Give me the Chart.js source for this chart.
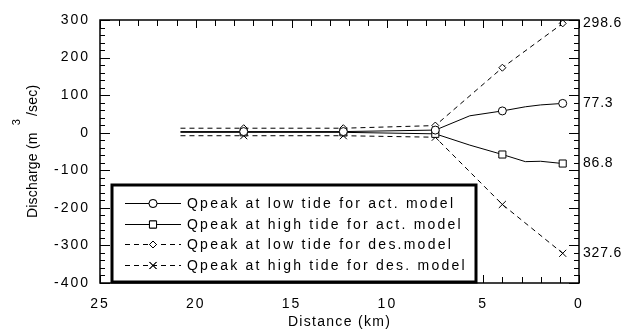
<!DOCTYPE html>
<html>
<head>
<meta charset="utf-8">
<script src="https://cdn.jsdelivr.net/npm/chart.js@4.4.1/dist/chart.umd.min.js"></script>
<style>
  html, body { margin: 0; padding: 0; background: #fff; }
  #wrap { width: 643px; height: 330px; }
</style>
</head>
<body>
<div id="wrap"><canvas id="chart" width="643" height="330"></canvas></div>
<script>
// distance along river (km), markers only at surveyed stations
const distances = [20.8, 17.5, 12.3, 7.5, 5.7, 4.0, 2.8, 2.0, 0.85];
const markerDistances = [17.5, 12.3, 7.5, 4.0, 0.85];

const lowTideAct = [3, 3, 3, 7, 45, 58, 69, 74, 78];
const highTideAct = [1, 1, 1, -3, -33, -58, -77, -76, -82];
const lowTideDes = [12, 12, 12, 19, null, 173, null, null, 291];
const highTideDes = [-8, -8, -8, -12, null, -191, null, null, -321];

const seriesNames = [
  'Qpeak at low tide for act. model',
  'Qpeak at high tide for act. model',
  'Qpeak at low tide for des.model',
  'Qpeak at high tide for des. model'
];
const endLabels = ['298.6', '77.3', '86.8', '327.6'];
const yTicks = [-400, -300, -200, -100, 0, 100, 200, 300];
const xTicks = [0, 5, 10, 15, 20, 25];

const FONT = '"Liberation Sans", Arial, sans-serif';

function pts(vals) { return distances.map((d, i) => ({ x: d, y: vals[i] })); }
function radii(r) { return distances.map(d => markerDistances.includes(d) ? r : 0); }

function makeSet(label, vals, style, r, dashed) {
  return {
    label: label,
    data: pts(vals),
    borderColor: '#000',
    backgroundColor: '#fff',
    borderWidth: 1,
    borderDash: dashed ? [5, 4] : [],
    pointStyle: style,
    pointRadius: radii(r),
    pointBorderColor: '#000',
    pointBackgroundColor: '#fff',
    pointBorderWidth: 1,
    spanGaps: true,
    tension: 0
  };
}

const datasets = [
  makeSet(seriesNames[0], lowTideAct, 'circle', 4, false),
  makeSet(seriesNames[1], highTideAct, 'rect', 5, false),
  makeSet(seriesNames[2], lowTideDes, 'rectRot', 3.5, true),
  makeSet(seriesNames[3], highTideDes, 'crossRot', 5, true)
];

// frame, inward ticks, titles, right-hand labels and the boxed legend
const decor = {
  id: 'decor',
  beforeDraw(chart) { chart.ctx.letterSpacing = '2px'; },
  afterDatasetsDraw(chart) {
    const ctx = chart.ctx;
    const a = chart.chartArea;
    const xs = chart.scales.x, ys = chart.scales.y;
    ctx.save();
    ctx.letterSpacing = '0px';
    ctx.strokeStyle = '#000';
    ctx.lineWidth = 1;
    ctx.setLineDash([]);
    ctx.beginPath();
    for (let v = -400; v <= 300; v += 20) {
      const y = Math.round(ys.getPixelForValue(v)) + 0.5;
      const len = v % 100 === 0 ? 10 : 5;
      ctx.moveTo(a.left, y); ctx.lineTo(a.left + len, y);
      ctx.moveTo(a.right, y); ctx.lineTo(a.right - len, y);
    }
    for (let d = 0; d <= 25; d += 1) {
      const x = Math.round(xs.getPixelForValue(d)) + 0.5;
      const len = d % 5 === 0 ? 8 : 6;
      ctx.moveTo(x, a.top); ctx.lineTo(x, a.top + len);
      ctx.moveTo(x, a.bottom); ctx.lineTo(x, a.bottom - len);
    }
    ctx.stroke();
    ctx.lineWidth = 1.5;
    ctx.strokeRect(a.left, a.top, a.right - a.left, a.bottom - a.top);

    // right-hand magnitude labels at each series end
    ctx.fillStyle = '#000';
    ctx.font = '14px ' + FONT;
    ctx.letterSpacing = '0.8px';
    ctx.textAlign = 'left';
    ctx.textBaseline = 'middle';
    const ends = [lowTideDes, lowTideAct, highTideAct, highTideDes];
    ends.forEach((s, i) => {
      ctx.fillText(endLabels[i], a.right + 4, ys.getPixelForValue(s[s.length - 1]));
    });

    // x title
    ctx.font = '14px ' + FONT;
    ctx.letterSpacing = '1.3px';
    ctx.textAlign = 'center';
    ctx.textBaseline = 'middle';
    ctx.fillText('Distance (km)', (a.left + a.right) / 2, 322);

    // y title with superscript
    ctx.save();
    ctx.translate(33, 218);
    ctx.rotate(-Math.PI / 2);
    ctx.textAlign = 'left';
    ctx.letterSpacing = '0.2px';
    ctx.font = '14px ' + FONT;
    const p1 = 'Discharge (m';
    ctx.fillText(p1, 0, 0);
    let off = ctx.measureText(p1).width + 7;
    ctx.font = '11px ' + FONT;
    ctx.fillText('3', off, -16);
    off += ctx.measureText('3').width + 3;
    ctx.font = '14px ' + FONT;
    ctx.fillText('/sec)', off, 0);
    ctx.restore();

    // legend box
    const bx = 112, by = 185, bw = 364, bh = 97;
    ctx.setLineDash([]);
    ctx.fillStyle = '#fff';
    ctx.fillRect(bx, by, bw, bh);
    ctx.lineWidth = 3;
    ctx.strokeStyle = '#000';
    ctx.strokeRect(bx, by, bw, bh);
    ctx.font = '14px ' + FONT;
    ctx.letterSpacing = '0px';
    const w0 = ctx.measureText(seriesNames[0]).width;
    const sp = Math.max(0, (266 - w0) / (seriesNames[0].length - 1));
    const rowY = [203, 224, 244, 265];
    datasets.forEach((ds, i) => {
      const y = rowY[i];
      ctx.lineWidth = 1;
      ctx.strokeStyle = '#000';
      ctx.setLineDash(ds.borderDash);
      ctx.beginPath();
      ctx.moveTo(125, y + 0.5); ctx.lineTo(181, y + 0.5);
      ctx.stroke();
      ctx.setLineDash([]);
      const r = Math.max.apply(null, ds.pointRadius);
      Chart.helpers.drawPoint(ctx, { pointStyle: ds.pointStyle, radius: r, rotation: 0, borderWidth: 1 }, 153, y + 0.5);
      ctx.fillStyle = '#fff';
      ctx.fill();
      ctx.stroke();
      ctx.fillStyle = '#000';
      ctx.letterSpacing = sp + 'px';
      ctx.textAlign = 'left';
      ctx.textBaseline = 'middle';
      ctx.fillText(seriesNames[i], 187, y + 1);
      ctx.letterSpacing = '0px';
    });
    ctx.restore();
  }
};

new Chart(document.getElementById('chart').getContext('2d'), {
  type: 'line',
  data: { datasets: datasets },
  options: {
    responsive: false,
    animation: false,
    layout: { padding: { left: 0, right: 64, top: 20, bottom: 0 } },
    plugins: { legend: { display: false }, tooltip: { enabled: false } },
    scales: {
      x: {
        type: 'linear', reverse: true, min: 0, max: 25,
        afterFit(scale) { scale.height = 47; },
        afterBuildTicks(scale) { scale.ticks = xTicks.map(v => ({ value: v })); },
        grid: { display: false, drawTicks: false },
        border: { display: false },
        ticks: { color: '#000', padding: 13, font: { family: FONT, size: 14 }, maxRotation: 0 }
      },
      y: {
        type: 'linear', min: -400, max: 300,
        afterFit(scale) { scale.width = 100; },
        afterBuildTicks(scale) { scale.ticks = yTicks.map(v => ({ value: v })); },
        grid: { display: false, drawTicks: false },
        border: { display: false },
        ticks: { color: '#000', padding: 10, font: { family: FONT, size: 14 } }
      }
    }
  },
  plugins: [decor]
});
</script>
</body>
</html>
